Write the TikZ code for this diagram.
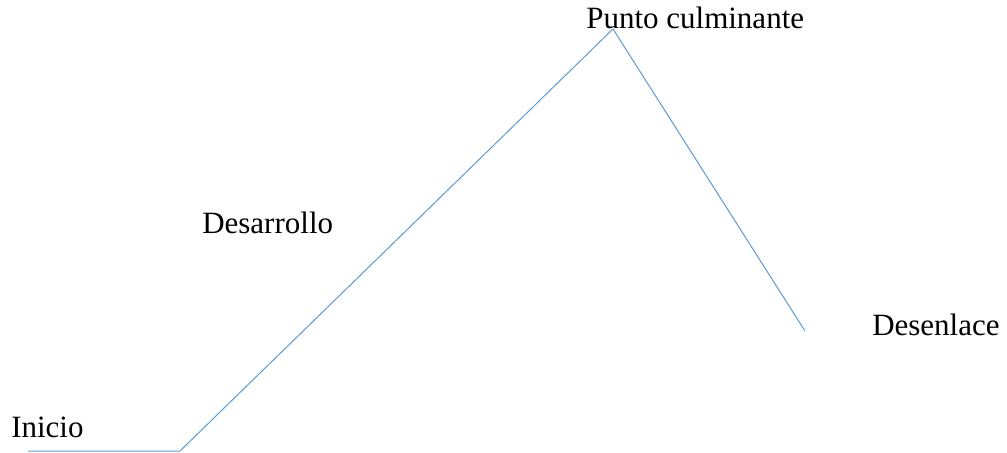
\documentclass[tikz,border=0pt]{standalone}
\usepackage{fontspec}
\setmainfont{Liberation Serif}
\definecolor{lineblue}{HTML}{5B9BD5}

\begin{document}
\begin{tikzpicture}[
    x=0.75pt, y=-0.75pt,
    every node/.style={font=\fontsize{23.25pt}{28pt}\selectfont, inner sep=0pt, anchor=base west},
    plot/.style={draw=lineblue, line width=0.75pt, line join=miter}
]
    \useasboundingbox (0,0) rectangle (1007,453);
    % stages of the plot line
    \coordinate (start) at (28,451);
    \coordinate (rise) at (180,451);
    \coordinate (peak) at (613,29);
    \coordinate (fall) at (805,331);

    \node (inicio) at (11,437) {Inicio};
    \node (desarrollo) at (202,233) {Desarrollo};
    \node (culmen) at (586,29) {Punto culminante};
    \node (desenlace) at (872,335) {Desenlace};

    \draw [plot] (start) -- (rise) -- (peak) -- (fall);
\end{tikzpicture}
\end{document}
